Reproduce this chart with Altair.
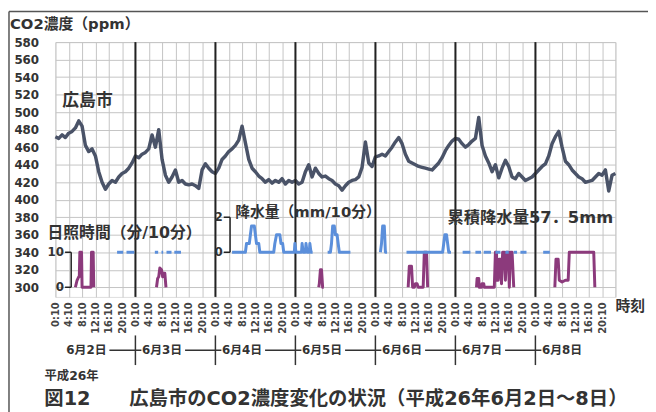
import altair as alt
import pandas as pd

# ---------------- data ----------------
days = ["6月2日", "6月3日", "6月4日", "6月5日", "6月6日", "6月7日", "6月8日"]
y_ticks = [300, 320, 340, 360, 380, 400, 420, 440, 460, 480, 500, 520, 540, 560, 580]
x_ticks = [0, 4, 8, 12, 16, 20, 24, 28, 32, 36, 40, 44, 48, 52, 56, 60, 64, 68, 72, 76, 80, 84,
           88, 92, 96, 100, 104, 108, 112, 116, 120, 124, 128, 132, 136, 140, 144, 148, 152, 156,
           160, 164, 168]
day_bounds = [24, 48, 72, 96, 120, 144]

# CO2 (ppm), hourly from 2014-06-02 00:00
co2_ppm = [
    472, 470, 474, 471, 476, 478, 482, 490, 484, 462, 455, 458, 450, 432, 420, 412, 418, 422, 420, 426, 430, 432, 436, 442,
    450, 448, 452, 454, 458, 474, 460, 480, 446, 428, 420, 426, 434, 420, 422, 418, 417, 418, 416, 413, 434, 441, 436, 432,
    430, 436, 446, 450, 455, 458, 462, 468, 484, 465, 446, 436, 432, 427, 424, 420, 423, 419, 422, 420, 424, 418, 422, 420,
    422, 418, 420, 432, 440, 426, 436, 430, 426, 427, 424, 422, 418, 416, 411, 416, 420, 422, 423, 426, 437, 466, 442, 438,
    449, 450, 452, 450, 455, 460, 466, 471, 464, 452, 444, 442, 440, 438, 437, 436, 435, 434, 438, 442, 448, 456, 462, 467,
    470, 469, 464, 460, 463, 467, 470, 494, 462, 450, 442, 432, 440, 425, 436, 445, 438, 426, 424, 430, 426, 422, 424, 426,
    430, 434, 438, 441, 450, 464, 472, 478, 460, 444, 440, 434, 430, 426, 424, 420, 421, 422, 426, 430, 428, 434, 410, 428, 430,
]

# sunshine (min / 10 min), segments of (hour, value)
sun_segments = [
    [(6.0, 0), (6.5, 2), (7.0, 3), (7.17, 3), (7.33, 10), (7.83, 10), (8.0, 0), (10.67, 0), (10.83, 10), (11.33, 10), (11.5, 0)],
    [(30.33, 0), (30.67, 2.5), (31.0, 3), (31.33, 5.5), (31.83, 5), (32.17, 3), (32.5, 4), (32.83, 4), (33.17, 0)],
    [(79.0, 0), (79.17, 1), (79.5, 5), (79.83, 5), (80.17, 0), (80.5, 0)],
    [(105.83, 0), (106.17, 6), (106.83, 6), (107.17, 0), (107.67, 0), (108.0, 1), (108.5, 1), (108.83, 0),
     (110.33, 0), (110.67, 10), (111.33, 10), (111.67, 0)],
    [(126.33, 0), (126.5, 2.5), (127.0, 2.5), (127.17, 0), (127.83, 0), (128.0, 1), (128.5, 1), (128.67, 0),
     (131.67, 0), (132.0, 10), (132.33, 10), (132.5, 2), (132.83, 2), (133.17, 8), (133.5, 8), (133.83, 1),
     (134.17, 10), (134.67, 10), (135.0, 2), (135.33, 10), (135.83, 10), (136.17, 0), (136.5, 10), (137.0, 10), (137.5, 0)],
    [(149.83, 0), (150.17, 8), (150.83, 8), (151.17, 2), (152.0, 1.5), (153.0, 2), (153.83, 2), (154.17, 10),
     (161.5, 10), (161.83, 0)],
]

# precipitation (mm / 10 min), segments of (hour, value)
rain_segments = [
    [(18.5, 0), (20.33, 0)],
    [(21.33, 0), (23.67, 0)],
    [(29.83, 0), (30.83, 0)],
    [(31.83, 0), (32.33, 0)],
    [(33.33, 0), (34.83, 0)],
    [(35.67, 0), (37.67, 0)],
    [(53.0, 0), (57.0, 0), (57.33, 0.5), (58.17, 0.5), (58.5, 1.0), (58.83, 1.5), (59.67, 1.5), (60.0, 1.0),
     (60.33, 0.5), (61.0, 0.5), (61.33, 0), (65.5, 0), (65.83, 0.5), (66.33, 1.0), (67.33, 1.0), (67.67, 0.5),
     (68.17, 0.5), (68.5, 0), (71.67, 0), (71.83, 0.5), (72.17, 0), (73.83, 0), (74.0, 0.5), (74.33, 0),
     (75.0, 0), (75.17, 0.5), (75.5, 0), (76.17, 0), (76.33, 0.5), (76.67, 0), (77.17, 0)],
    [(81.67, 0), (82.5, 0), (82.83, 0.5), (83.17, 1.5), (83.67, 1.5), (84.0, 1.0), (84.5, 1.0), (84.83, 0.5),
     (85.17, 0), (88.5, 0)],
    [(97.5, 0), (97.83, 0.5), (98.17, 1.5), (98.67, 1.5), (99.0, 0), (99.5, 0)],
    [(105.33, 0), (116.17, 0), (116.5, 0.5), (116.83, 1.0), (117.33, 1.0), (117.67, 0.5), (118.0, 0), (118.67, 0)],
    [(122.17, 0), (124.5, 0)],
    [(126.0, 0), (127.67, 0)],
    [(128.5, 0), (130.67, 0)],
    [(132.0, 0), (133.5, 0)],
    [(135.0, 0), (136.0, 0)],
    [(137.5, 0), (138.5, 0)],
    [(139.5, 0), (141.33, 0)],
    [(146.33, 0), (148.33, 0)],
]

# ---------------- frames ----------------
co2_df = pd.DataFrame({"h": list(range(len(co2_ppm))), "ppm": co2_ppm})


def flatten(segs, base, per_unit):
    rows = []
    for i, seg in enumerate(segs):
        for h, v in seg:
            rows.append({"seg": i, "h": h, "v": v, "ppm": base + per_unit * v})
    return pd.DataFrame(rows)


sun_df = flatten(sun_segments, 300, 4)      # 0 min -> 300 ppm, 10 min -> 340 ppm
rain_df = flatten(rain_segments, 340, 20)   # 0 mm -> 340 ppm, 2 mm -> 380 ppm

label_centers = [24 * d + (9.3 if d == 0 else 8.0) for d in range(len(days))]
day_df = pd.DataFrame({"label": days, "h": label_centers})
cross_df = pd.DataFrame({
    "b": day_bounds,
    "x1": [label_centers[i] + 6.9 for i in range(len(day_bounds))],
    "x2": [b + 1.8 for b in day_bounds],
})
bounds_df = pd.DataFrame({"b": day_bounds})

W, H = 567, 258
XS = alt.Scale(domain=[0, 168], nice=False, zero=False)
YS = alt.Scale(domain=[289, 580], nice=False, zero=False)
NUM = "DejaVu Sans"
JP = "DejaVu Sans, Noto Sans CJK JP"
TXT = "#333333"
GRID = "#c4c4c4"
one = pd.DataFrame({"a": [0]})

X_AX = alt.Axis(values=x_ticks, grid=True, ticks=False, domain=False, labelAngle=270,
                labelExpr="datum.value >= 168 ? '' : (datum.value % 24) + ':10'",
                labelFont=NUM, labelFontSize=10, labelFontWeight="bold", labelColor="#444444",
                labelPadding=5, labelFlush=False, labelOverlap=False,
                gridColor=GRID, gridWidth=1, title=None)
Y_AX = alt.Axis(values=y_ticks, grid=True, ticks=False, domain=False,
                labelFont=NUM, labelFontSize=12, labelFontWeight="bold", labelColor=TXT,
                labelPadding=17, gridColor=GRID, gridWidth=1, title=None)


def X(f):
    return alt.X(f, scale=XS, axis=X_AX, title=None)


def Y(f):
    return alt.Y(f, scale=YS, axis=Y_AX, title=None)


co2 = alt.Chart(co2_df).mark_line(color="#4a5368", strokeWidth=3.5, strokeJoin="round").encode(
    x=X("h:Q"), y=Y("ppm:Q"))

day_lines = alt.Chart(bounds_df).mark_rule(color="#222222", strokeWidth=2).encode(x=X("b:Q"))

sun = alt.Chart(sun_df).mark_line(color="#8c3a7c", strokeWidth=3, strokeJoin="round").encode(
    x=X("h:Q"), y=Y("ppm:Q"), detail="seg:N")

rain = alt.Chart(rain_df).mark_line(color="#5b8fdb", strokeWidth=3, strokeJoin="round").encode(
    x=X("h:Q"), y=Y("ppm:Q"), detail="seg:N")

# secondary scale brackets: sunshine 0-10 (300-340 ppm), rain 0-2 (340-380 ppm)
brk = pd.DataFrame({
    "xa": [4.74, 2.9, 2.9, 52.4, 50.5, 50.5],
    "xb": [4.74, 4.74, 4.74, 52.4, 52.4, 52.4],
    "ya": [300, 300, 340, 340, 340, 380],
    "yb": [340, 300, 340, 380, 340, 380],
})
brackets = alt.Chart(brk).mark_rule(color="#222222", strokeWidth=1.5).encode(
    x=X("xa:Q"), x2="xb:Q", y=Y("ya:Q"), y2="yb:Q")

sub_lbl = pd.DataFrame({"h": [2.6, 2.6, 50.2, 50.2], "ppm": [340, 300, 340, 380], "t": ["10", "0", "0", "2"]})
sub_labels = alt.Chart(sub_lbl).mark_text(align="right", baseline="middle", font=NUM, fontSize=12,
                                          fontWeight="bold", color=TXT).encode(
    x=X("h:Q"), y=Y("ppm:Q"), text="t:N")


def txt(s, x, y, size, align="left", font=JP):
    return alt.Chart(one).mark_text(text=s, align=align, baseline="middle", font=font, fontSize=size,
                                    fontWeight="bold", color=TXT).encode(x=alt.value(x), y=alt.value(y))


annotations = [
    txt("CO2濃度（ppm）", -46, -18, 15),
    txt("広島市", 7, 60, 17),
    txt("日照時間（分/10分）", -8, 193, 16),
    txt("降水量（mm/10分）", 182, 172, 15),
    txt("累積降水量57．5mm", 397, 178, 16.5),
    txt("時刻", 567, 267, 15),
    txt("平成26年", -11, 338, 12.5),
    txt("図12　　広島市のCO2濃度変化の状況（平成26年6月2日～8日）", 284, 361, 19.6, align="center"),
]

day_labels = alt.Chart(day_df).mark_text(baseline="middle", font=JP, fontSize=12, fontWeight="bold",
                                         color=TXT).encode(
    x=X("h:Q"), y=alt.value(312), text="label:N")

cross_v = alt.Chart(cross_df).mark_rule(color="#333333", strokeWidth=1.5).encode(
    x=X("b:Q"), y=alt.value(297), y2=alt.value(327))
cross_h = alt.Chart(cross_df).mark_rule(color="#333333", strokeWidth=1.5).encode(
    x=X("x1:Q"), x2="x2:Q", y=alt.value(312))

frame_top = alt.Chart(one).mark_rule(color="#555555", strokeWidth=1.5).encode(
    x=alt.value(-47), x2=alt.value(W + 40), y=alt.value(-31))
frame_left = alt.Chart(one).mark_rule(color="#555555", strokeWidth=1.5).encode(
    x=alt.value(-47), y=alt.value(-31), y2=alt.value(H + 120))

chart = alt.layer(
    co2, day_lines, sun, rain, brackets, sub_labels, day_labels, cross_v, cross_h,
    frame_top, frame_left, *annotations
).properties(
    width=W, height=H, autosize="none",
    padding={"left": 48, "top": 32, "right": 33, "bottom": 114},
).configure_view(stroke=None).configure(background="white")

chart.save("out.html", embed_options={"renderer": "svg", "actions": False})
